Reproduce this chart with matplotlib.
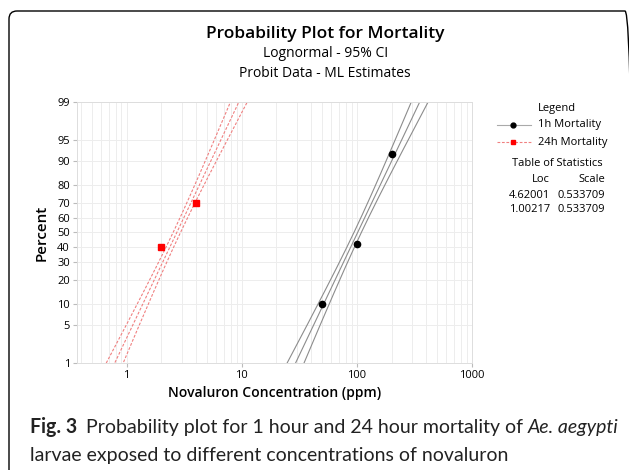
import numpy as np
import matplotlib
matplotlib.use("Agg")
import matplotlib.pyplot as plt
from matplotlib.patches import FancyBboxPatch
from matplotlib.transforms import IdentityTransform
from matplotlib.ticker import FixedLocator, NullFormatter
from statistics import NormalDist

plt.rcParams['font.family'] = ['Open Sans', 'DejaVu Sans']

# observed points (concentration ppm, percent mortality)
conc_1h = [50, 100, 200]
pct_1h = [10, 42, 92]
conc_24h = [2, 4]
pct_24h = [40, 70]

# fitted lognormal parameters (Table of Statistics)
loc_1h, scale_1h = 4.62001, 0.533709
loc_24h, scale_24h = 1.00217, 0.533709

ci_mid = 0.074
ci_slope = 0.065

y_ticks = [1, 5, 10, 20, 30, 40, 50, 60, 70, 80, 90, 95, 99]
x_ticks = [1, 10, 100, 1000]

nd = NormalDist()


def fwd(p):
    p = np.clip(np.asarray(p, dtype=float) / 100.0, 1e-9, 1 - 1e-9)
    return np.array([nd.inv_cdf(v) for v in p.ravel()]).reshape(p.shape)


def inv(z):
    z = np.asarray(z, dtype=float)
    return 100.0 * np.array([nd.cdf(v) for v in z.ravel()]).reshape(z.shape)


W, H = 629, 470
fig = plt.figure(figsize=(W / 100, H / 100), dpi=100)
ax = fig.add_axes([77 / W, 1 - 363 / H, 395 / W, 261 / H])
ax.set_xscale('log')
ax.set_yscale('function', functions=(fwd, inv))

p_grid = np.linspace(0.3, 99.7, 200)
z_grid = fwd(p_grid)
half = np.sqrt(ci_mid ** 2 + (ci_slope * z_grid) ** 2)

for loc, scale, col, ls in [(loc_1h, scale_1h, '#8c8c8c', '-'),
                            (loc_24h, scale_24h, '#f08080', (0, (2.5, 1.5)))]:
    mid = loc + scale * z_grid
    for off in (-half, 0 * half, half):
        ax.plot(np.exp(mid + off), p_grid, color=col, lw=0.8, ls=ls, zorder=2)

ax.plot(conc_1h, pct_1h, 'o', color='black', ms=4.5, zorder=3)
ax.plot(conc_24h, pct_24h, 's', color='red', ms=4, zorder=3)

ax.set_xlim(0.37, 1000)
ax.set_ylim(1, 99)
ax.yaxis.set_major_locator(FixedLocator(y_ticks))
ax.set_yticklabels([str(t) for t in y_ticks])
ax.xaxis.set_major_locator(FixedLocator(x_ticks))
ax.set_xticklabels([str(t) for t in x_ticks])
minor_x = [m * 10.0 ** e for e in range(-1, 3) for m in range(2, 10)]
ax.xaxis.set_minor_locator(FixedLocator(minor_x))
ax.xaxis.set_minor_formatter(NullFormatter())
ax.yaxis.set_minor_locator(FixedLocator([]))

ax.grid(True, which='both', color='#ededed', lw=0.7)
ax.set_axisbelow(True)
for s in ax.spines.values():
    s.set_color('#dddddd')
    s.set_linewidth(0.7)
ax.tick_params(axis='both', which='major', length=3, color='#bbbbbb',
               labelsize=8, pad=2)
ax.tick_params(axis='both', which='minor', length=0)

ax.set_xlabel('Novaluron Concentration (ppm)', fontsize=10, fontweight='semibold', labelpad=4)
ax.set_ylabel('Percent', fontsize=11, fontweight='semibold', labelpad=6)

# titles
fig.text(0.517, 0.928, 'Probability Plot for Mortality', ha='center', va='center',
         fontsize=12.5, fontweight='semibold')
fig.text(0.517, 0.886, 'Lognormal - 95% CI', ha='center', va='center', fontsize=10)
fig.text(0.517, 0.843, 'Probit Data - ML Estimates', ha='center', va='center', fontsize=10)

# legend block
fs = 8
fig.text(538 / W, 1 - 109 / H, 'Legend', ha='left', va='center', fontsize=fs)
fig.add_artist(plt.Line2D([497 / W, 531 / W], [1 - 125 / H] * 2, color='#aaaaaa', lw=0.8))
fig.add_artist(plt.Line2D([513 / W], [1 - 125 / H], marker='o', color='black', ms=3.5))
fig.add_artist(plt.Line2D([497 / W, 531 / W], [1 - 142 / H] * 2, color='#f08080', lw=0.8,
                          ls=(0, (2.5, 1.5))))
fig.add_artist(plt.Line2D([513 / W], [1 - 142 / H], marker='s', color='red', ms=3.5))
fig.text(538 / W, 1 - 125 / H, '1h Mortality', ha='left', va='center', fontsize=fs)
fig.text(538 / W, 1 - 142 / H, '24h Mortality', ha='left', va='center', fontsize=fs)
fig.text(557 / W, 1 - 164 / H, 'Table of Statistics', ha='center', va='center', fontsize=fs)
fig.text(550 / W, 1 - 179 / H, 'Loc', ha='right', va='center', fontsize=fs)
fig.text(605 / W, 1 - 179 / H, 'Scale', ha='right', va='center', fontsize=fs)
for i, (lc, sc) in enumerate([(loc_1h, scale_1h), (loc_24h, scale_24h)]):
    yy = 1 - (196 + 14 * i) / H
    fig.text(550 / W, yy, f'{lc:.5f}', ha='right', va='center', fontsize=fs)
    fig.text(605 / W, yy, f'{sc:.6f}', ha='right', va='center', fontsize=fs)

# caption, laid out piece by piece and sized so line 1 ends near x=622
renderer = fig.canvas.get_renderer()
cap_font = ['Lato', 'DejaVu Sans']
cap_col = '#222222'


def caption(size):
    arts = []

    def put(x, y, s, **kw):
        t = fig.text(x / W, 1 - y / H, s, ha='left', va='baseline', fontsize=size,
                     family=cap_font, color=cap_col, **kw)
        arts.append(t)
        return x + t.get_window_extent(renderer).width

    x = put(30, 433, 'Fig. 3', fontweight='bold')
    x = put(x + 9, 433, 'Probability plot for 1 hour and 24 hour mortality of ')
    x = put(x, 433, 'Ae. aegypti', style='italic')
    put(30, 461, 'larvae exposed to different concentrations of novaluron')
    return arts, x


arts, end = caption(12.5)
size = 12.5 * (622 - 30) / (end - 30)
for a in arts:
    a.remove()
caption(size)

# rounded frame, right and bottom edges run off the picture
frame = FancyBboxPatch((9, -20), 624, H - 11 + 20,
                       boxstyle='round,pad=0,rounding_size=8',
                       transform=IdentityTransform(), fill=False, ec='black', lw=1.0,
                       clip_on=False)
fig.add_artist(frame)

fig.savefig('out.png', dpi=100)
